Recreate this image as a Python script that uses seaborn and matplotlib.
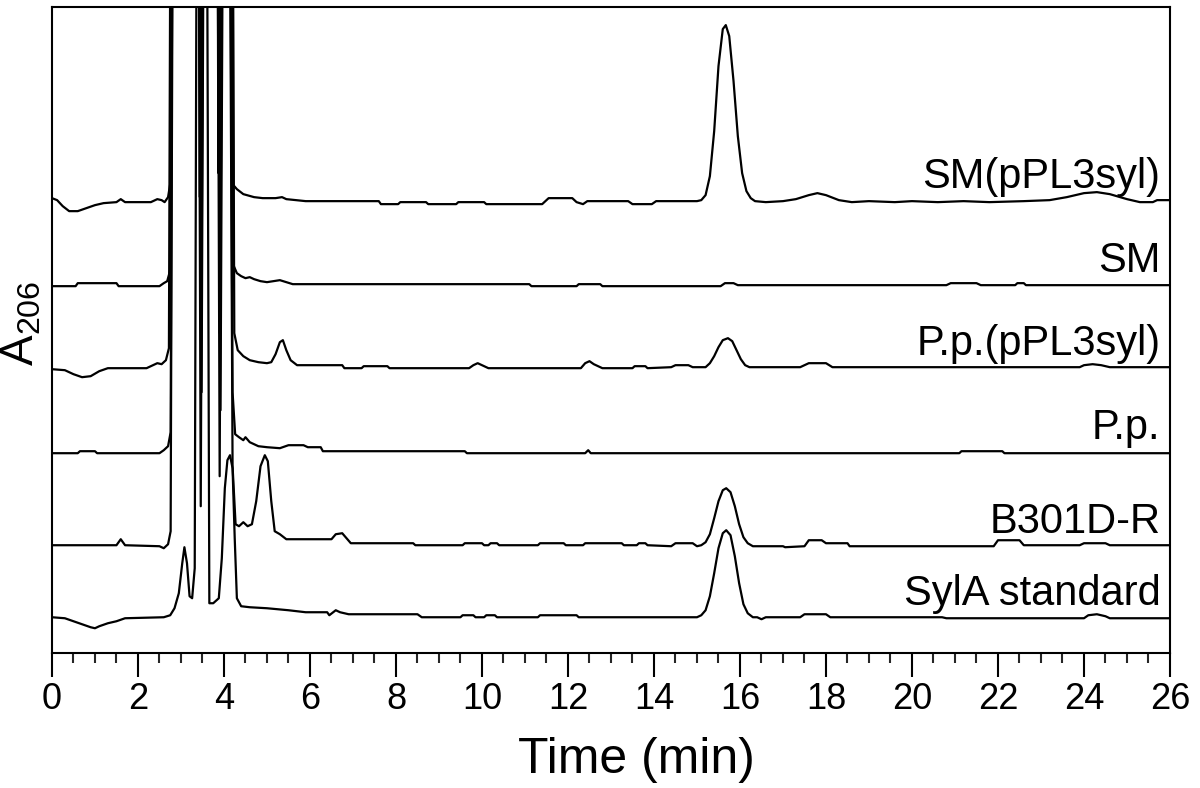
import numpy as np
import matplotlib
matplotlib.use('Agg')
import matplotlib.pyplot as plt
from matplotlib.ticker import MultipleLocator
import seaborn as sns

# ── data: HPLC traces, retention time (min) vs A206 above each trace's baseline ──
# values of 800 mean the detector is off-scale (solvent front)
SAMPLES = ['SM(pPL3syl)', 'SM', 'P.p.(pPL3syl)', 'P.p.', 'B301D-R', 'SylA standard']

SM_PPL3SYL = [
    (0.0, 3), (0.12, 1), (0.25, -5), (0.4, -10), (0.6, -10), (0.8, -7), (1.0, -4), (1.2, -2),
    (1.5, -1), (1.6, 2), (1.7, -1), (2.3, -1), (2.45, 2), (2.55, 1), (2.62, -1), (2.7, 4),
    (2.76, 20), (2.82, 800), (3.38, 800), (3.44, 4), (3.5, 800), (3.82, 800), (3.87, 28),
    (3.94, 800), (4.17, 800), (4.22, 16), (4.3, 12), (4.45, 7), (4.7, 4), (4.9, 3), (5.2, 3),
    (5.35, 4), (5.45, 2), (5.9, 0), (7.6, 0), (7.65, -3), (8.05, -3), (8.1, -1), (8.7, -1),
    (8.75, -3), (9.4, -3), (9.45, -1), (10.05, -1), (10.1, -3), (11.4, -3), (11.55, 3),
    (12.1, 3), (12.2, -1), (12.35, -3), (12.45, 0), (13.4, 0), (13.5, -3), (13.95, -3),
    (14.05, 0), (15.0, 0), (15.1, 1), (15.2, 6), (15.3, 25), (15.4, 70), (15.5, 135),
    (15.6, 172), (15.67, 176), (15.75, 165), (15.85, 120), (15.95, 65), (16.05, 28),
    (16.15, 10), (16.25, 3), (16.35, 0), (16.6, -1), (17.0, 0), (17.3, 2), (17.6, 6),
    (17.8, 8), (18.0, 6), (18.3, 1), (18.6, -1), (19.0, 0), (19.6, -1), (20.0, 0), (20.6, -1),
    (21.2, 0), (21.8, -1), (22.6, 0), (23.2, 1), (23.6, 4), (24.0, 8), (24.3, 9), (24.6, 7),
    (25.0, 2), (25.3, -1), (25.6, -1), (25.7, 1), (26.0, 1),
]
SM = [
    (0.0, -1), (0.55, -1), (0.6, 2), (1.5, 2), (1.55, -1), (2.5, -1), (2.6, 2), (2.68, 4),
    (2.75, 15), (2.8, 800), (3.4, 800), (3.46, 20), (3.52, 800), (3.84, 800), (3.9, 40),
    (3.98, 800), (4.15, 800), (4.22, 20), (4.3, 12), (4.4, 9), (4.5, 7), (4.6, 8), (4.7, 6),
    (4.85, 4), (5.0, 3), (5.3, 5), (5.45, 3), (5.6, 1), (11.1, 1), (11.15, -1), (12.2, -1),
    (12.25, 1), (12.75, 1), (12.8, -1), (15.55, -1), (15.65, 2), (15.85, 2), (15.95, 0),
    (20.8, 0), (20.9, 2), (21.5, 2), (21.6, 0), (22.4, 0), (22.45, 2), (22.6, 2), (22.65, 0),
    (26.0, 0),
]
PP_PPL3SYL = [
    (0.0, -1), (0.3, -2), (0.5, -6), (0.7, -9), (0.9, -8), (1.1, -3), (1.3, 0), (2.2, 0),
    (2.35, 3), (2.45, 5), (2.55, 4), (2.65, 8), (2.72, 20), (2.78, 800), (3.4, 800),
    (3.47, 40), (3.54, 800), (3.85, 800), (3.9, 35), (3.97, 800), (4.18, 800), (4.24, 35),
    (4.32, 18), (4.45, 12), (4.6, 8), (4.8, 6), (5.0, 5), (5.1, 6), (5.2, 14), (5.3, 26),
    (5.37, 28), (5.45, 18), (5.55, 8), (5.7, 3), (6.75, 3), (6.8, 0), (7.2, 0), (7.25, 2),
    (7.8, 2), (7.85, 0), (9.7, 0), (9.8, 3), (9.9, 5), (10.0, 3), (10.15, 0), (12.3, 0),
    (12.4, 5), (12.5, 7), (12.6, 4), (12.8, 0), (13.5, 0), (13.55, 2), (13.8, 2), (13.85, 0),
    (14.4, 1), (14.5, 3), (14.8, 3), (14.9, 1), (15.2, 1), (15.3, 5), (15.4, 12), (15.5, 21),
    (15.6, 28), (15.72, 30), (15.82, 27), (15.92, 18), (16.02, 9), (16.12, 3), (16.22, 1),
    (17.4, 1), (17.6, 5), (18.0, 5), (18.15, 1), (23.9, 1), (24.0, 3), (24.2, 4), (24.4, 3),
    (24.6, 1), (26.0, 1),
]
PP = [
    (0.0, -1), (0.6, -1), (0.65, 1), (1.0, 1), (1.05, -1), (2.5, -1), (2.6, 2), (2.7, 6),
    (2.76, 20), (2.82, 800), (3.42, 800), (3.48, 60), (3.55, 800), (3.86, 800), (3.92, 42),
    (4.0, 800), (4.12, 800), (4.2, 60), (4.26, 18), (4.35, 15), (4.45, 12), (4.5, 15),
    (4.6, 10), (4.8, 6), (5.0, 5), (5.3, 4), (5.5, 7), (5.85, 7), (5.95, 5), (6.25, 5),
    (6.3, 1), (9.6, 1), (9.65, -1), (12.4, -1), (12.47, 2), (12.53, -1), (21.1, -1),
    (21.15, 1), (22.1, 1), (22.15, -1), (26.0, -1),
]
B301D_R = [
    (0.0, 1), (1.5, 1), (1.6, 7), (1.7, 1), (2.5, 0), (2.6, -2), (2.7, 2), (2.76, 15),
    (2.82, 800), (3.4, 800), (3.46, 40), (3.53, 800), (3.84, 800), (3.9, 70), (3.97, 800),
    (4.12, 800), (4.2, 80), (4.27, 22), (4.35, 20), (4.45, 24), (4.55, 20), (4.65, 22),
    (4.75, 45), (4.85, 80), (4.95, 91), (5.02, 85), (5.1, 45), (5.18, 15), (5.3, 12),
    (5.45, 7), (6.5, 7), (6.6, 12), (6.75, 13), (6.85, 8), (6.95, 3), (8.4, 3), (8.45, 1),
    (9.55, 1), (9.6, 3), (10.0, 3), (10.05, 1), (10.15, 1), (10.2, 3), (10.35, 3), (10.4, 1),
    (11.3, 1), (11.35, 3), (11.9, 3), (11.95, 1), (12.35, 1), (12.4, 3), (13.25, 3),
    (13.3, 1), (13.6, 1), (13.65, 3), (13.8, 3), (13.85, 1), (14.4, 0), (14.5, 3), (14.9, 3),
    (15.0, 0), (15.1, 1), (15.2, 4), (15.3, 12), (15.4, 28), (15.5, 45), (15.6, 56),
    (15.68, 58), (15.78, 54), (15.88, 40), (15.98, 22), (16.08, 9), (16.18, 3), (16.3, 0),
    (17.0, 0), (17.05, -1), (17.5, 0), (17.6, 6), (17.9, 6), (18.0, 3), (18.5, 3), (18.55, 0),
    (21.9, 0), (22.0, 6), (22.5, 6), (22.6, 1), (23.9, 1), (24.0, 3), (24.5, 3), (24.6, 1),
    (26.0, 1),
]
SYLA_STD = [
    (0.0, 1), (0.3, 0), (0.5, -3), (0.7, -6), (0.9, -9), (1.0, -10), (1.1, -8), (1.3, -5),
    (1.5, -3), (1.7, 0), (2.6, 1), (2.75, 3), (2.85, 10), (2.95, 25), (3.03, 55), (3.08, 71),
    (3.14, 55), (3.2, 22), (3.26, 20), (3.32, 50), (3.37, 800), (3.6, 800), (3.66, 15),
    (3.75, 15), (3.88, 20), (3.95, 60), (4.02, 130), (4.08, 158), (4.14, 163), (4.2, 150),
    (4.25, 80), (4.3, 20), (4.4, 12), (4.6, 11), (5.0, 10), (5.5, 8), (5.9, 6), (6.4, 6),
    (6.45, 3), (6.6, 8), (6.7, 6), (6.9, 4), (8.5, 4), (8.6, 1), (9.5, 1), (9.55, 3), (9.8, 3),
    (9.85, 1), (10.05, 1), (10.1, 3), (10.3, 3), (10.35, 1), (11.3, 1), (11.35, 3), (12.2, 3),
    (12.25, 1), (15.0, 1), (15.1, 3), (15.2, 8), (15.3, 22), (15.4, 45), (15.5, 70),
    (15.6, 85), (15.68, 88), (15.78, 83), (15.88, 62), (15.98, 35), (16.08, 14), (16.18, 5),
    (16.3, 1), (16.4, 1), (16.5, -1), (16.6, 1), (17.4, 1), (17.5, 4), (18.0, 4), (18.1, 1),
    (20.7, 1), (20.8, 0), (24.0, 0), (24.1, 3), (24.3, 4), (24.5, 2), (24.6, 0), (26.0, 0),
]
TRACES = [SM_PPL3SYL, SM, PP_PPL3SYL, PP, B301D_R, SYLA_STD]

# ── layout ───────────────────────────────────────────────────────────────────
STACK_OFFSETS = [452, 368, 285, 201, 107, 35]   # vertical stacking of the traces
Y_MAX = 646
X_MAX = 26

sns.set_style('ticks')
plt.rcParams['font.family'] = ['Liberation Sans', 'DejaVu Sans']
plt.rcParams['mathtext.default'] = 'regular'
plt.rcParams['text.color'] = 'black'
plt.rcParams['axes.labelcolor'] = 'black'

fig = plt.figure(figsize=(12, 7.88), dpi=100)
ax = fig.add_axes([0.0433, 0.171, 0.9317, 0.820])

for name, trace, off in zip(SAMPLES, TRACES, STACK_OFFSETS):
    t, a = zip(*trace)
    sns.lineplot(x=np.array(t), y=np.array(a) + off, ax=ax, color='black',
                 linewidth=1.6, estimator=None, sort=False)
    ax.text(25.78, off + 13, name, ha='right', va='baseline', fontsize=30, color='black')

ax.set_xlim(0, X_MAX)
ax.set_ylim(0, Y_MAX)
ax.xaxis.set_major_locator(MultipleLocator(2))
ax.xaxis.set_minor_locator(MultipleLocator(0.5))
ax.set_yticks([])
ax.tick_params(axis='x', which='major', length=17, width=1.5, direction='out',
               labelsize=26, pad=4, colors='black')
ax.tick_params(axis='x', which='minor', length=7, width=1.5, direction='out')
for s in ax.spines.values():
    s.set_linewidth(1.5)
    s.set_color('black')

ax.set_xlabel('Time (min)', fontsize=36, labelpad=8)
ax.xaxis.set_label_coords(0.523, -0.129)
ax.set_ylabel('A$_{206}$', fontsize=33)
ax.yaxis.set_label_coords(-0.008, 0.51)

fig.savefig('out.png', dpi=100, facecolor='white')
